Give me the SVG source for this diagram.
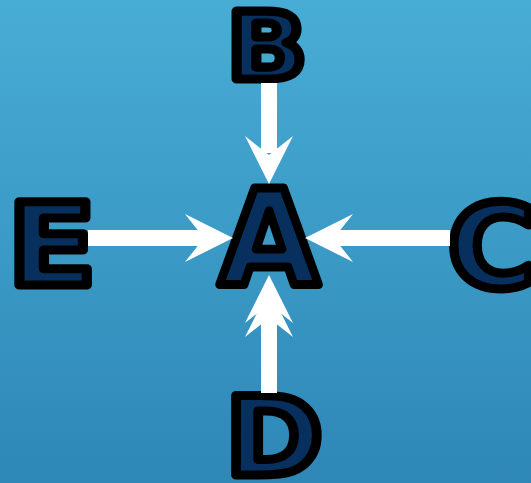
<svg xmlns="http://www.w3.org/2000/svg" width="531" height="483" viewBox="0 0 531 483">
<defs>
<linearGradient id="bg" x1="0" y1="0" x2="0" y2="1">
<stop offset="0" stop-color="#48add5"/>
<stop offset="1" stop-color="#2e87b7"/>
</linearGradient>
<path id="head" d="M0,0 L-48,-24 L-29,0 L-48,24 Z"/>
</defs>
<style>
.shaft{fill:#fff}
.head{fill:#fff}
.lbl{font-family:"DejaVu Sans","Liberation Sans",sans-serif;font-weight:bold;fill:#08305f;stroke:#000;stroke-width:9;stroke-linejoin:round;text-anchor:middle}
</style>
<rect x="0" y="0" width="531" height="483" fill="url(#bg)"/>
<g id="node-A"><text class="lbl" x="0" y="0" font-size="132" transform="translate(269,285) scale(0.98,1)">A</text></g>
<g id="node-B"><text class="lbl" x="0" y="0" font-size="92" transform="translate(267,79) scale(1.14,1)">B</text></g>
<g id="node-E"><text class="lbl" x="0" y="0" font-size="114" transform="translate(52,285) scale(1.14,1)">E</text></g>
<g id="node-C"><text class="lbl" x="0" y="0" font-size="116" transform="translate(492,287) scale(1.04,1)">C</text></g>
<g id="node-D"><text class="lbl" x="0" y="0" font-size="108" transform="translate(274,475) scale(1.09,1)">D</text></g>
<g id="connectors">
<rect class="shaft" x="261" y="83" width="16" height="70"/>
<use href="#head" class="head" transform="translate(269,184) rotate(90)"/>
<rect class="shaft" x="88" y="230" width="120" height="16"/>
<use href="#head" class="head" transform="translate(233,238)"/>
<rect class="shaft" x="330" y="230" width="120" height="16"/>
<use href="#head" class="head" transform="translate(305,238) rotate(180)"/>
<rect class="shaft" x="261" y="300" width="16" height="93"/>
<use href="#head" class="head" transform="translate(269,275) rotate(-90)"/>
<use href="#head" class="head" transform="translate(269,289) rotate(-90)"/>
</g>
</svg>
